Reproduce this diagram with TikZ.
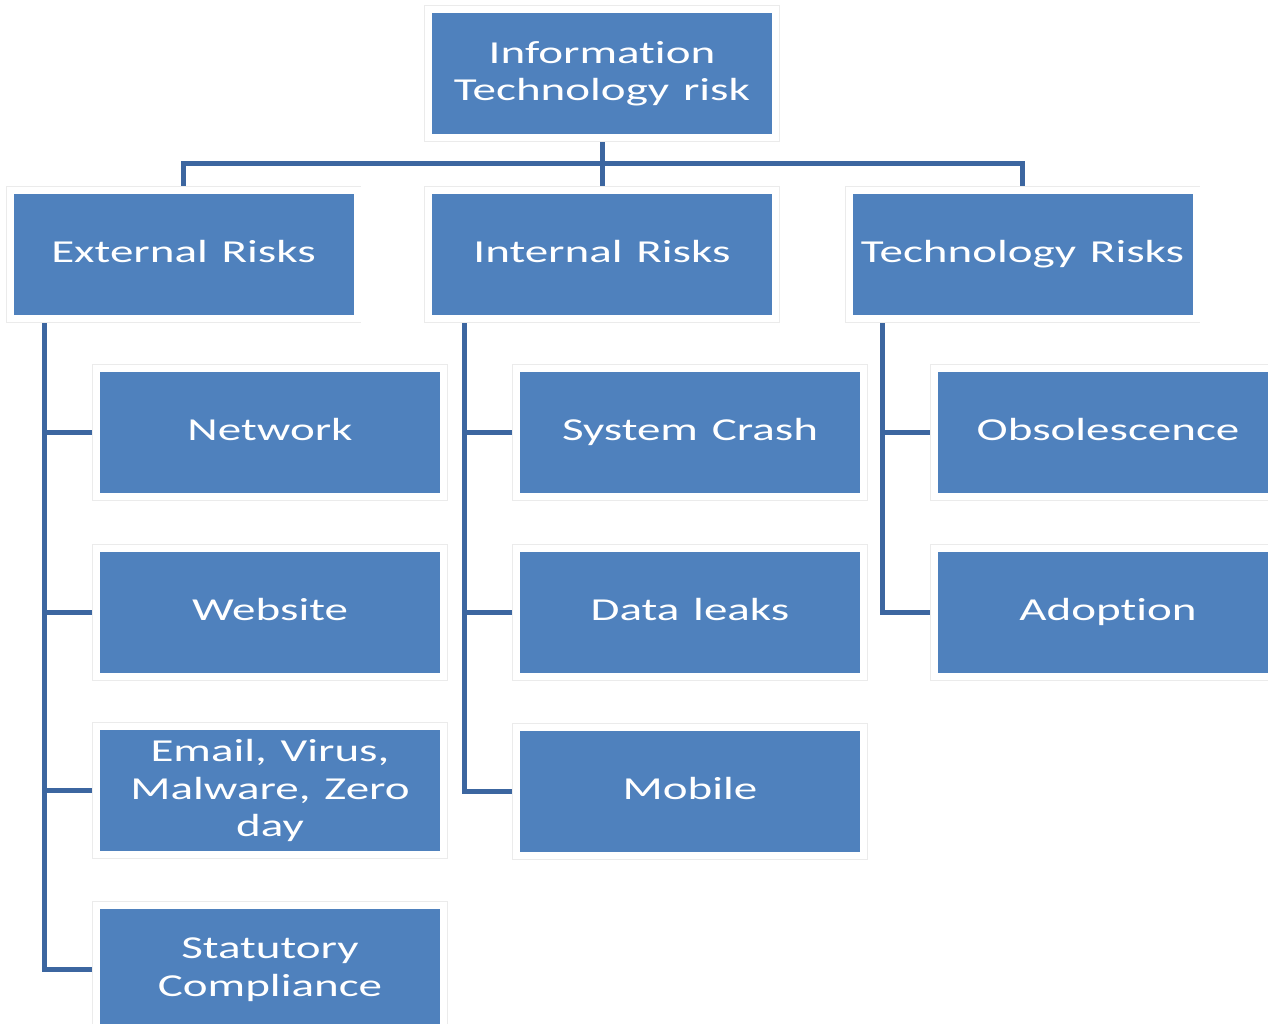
\documentclass[tikz,border=0pt]{standalone}
\usepackage{fontspec}
\setmainfont{Carlito}[FakeStretch=1.47, Ligatures={NoCommon}, WordSpace={1.3}]
\usetikzlibrary{backgrounds}
\definecolor{boxblue}{RGB}{79,129,189}
\definecolor{linkblue}{RGB}{60,102,160}
\tikzset{
  riskbox/.style={rectangle, minimum width=347pt, minimum height=128pt, inner sep=0pt,
    fill=boxblue, draw=white, line width=7pt,
    preaction={draw=black!8, line width=8.5pt},
    text=white, align=center, font=\fontsize{32}{37.5}\selectfont},
  conn/.style={draw=linkblue, line width=5pt, line join=miter}
}
\begin{document}
\begin{tikzpicture}[x=1pt,y=-1pt]
\useasboundingbox (0,0) rectangle (1268,1023);
% top
\node[riskbox] (top) at (602,73.5) {Information\\Technology risk};
% level 2
\node[riskbox] (ext)  at (183.5,254.5) {\strut External Risks};
\node[riskbox] (int)  at (602,254.5) {\strut Internal Risks};
\node[riskbox] (tech) at (1022.5,254.5) {\strut Technology Risks};
% external children
\node[riskbox] (net)  at (270,432.5) {\strut Network};
\node[riskbox] (web)  at (270,612.5) {\strut Website};
\node[riskbox] (mail) at (270,790.5) {Email, Virus,\\Malware, Zero\\day};
\node[riskbox] (stat) at (270,969.5) {Statutory\\Compliance};
% internal children
\node[riskbox] (crash) at (690,432.5) {\strut System Crash};
\node[riskbox] (leak)  at (690,612.5) {\strut Data leaks};
\node[riskbox] (mob)   at (690,791.5) {\strut Mobile};
% technology children
\node[riskbox] (obs) at (1108,432.5) {\strut Obsolescence};
\node[riskbox] (adp) at (1108,612.5) {\strut Adoption};
% connectors
\coordinate (bus) at (602,163);
\coordinate (er) at (44,0);
\coordinate (ir) at (464,0);
\coordinate (tr) at (882,0);
\begin{pgfonlayer}{background}
\fill[white] (0,0) rectangle (1268,1023);
\draw[conn] (ext.north) |- (bus) -| (tech.north);
\draw[conn] (top.south) -- (int.north);
\draw[conn] (ext.south -| er) |- (net.west);
\draw[conn] (ext.south -| er) |- (web.west);
\draw[conn] (ext.south -| er) |- (mail.west);
\draw[conn] (ext.south -| er) |- (stat.west);
\draw[conn] (int.south -| ir) |- (crash.west);
\draw[conn] (int.south -| ir) |- (leak.west);
\draw[conn] (int.south -| ir) |- (mob.west);
\draw[conn] (tech.south -| tr) |- (obs.west);
\draw[conn] (tech.south -| tr) |- (adp.west);
\end{pgfonlayer}
\end{tikzpicture}
\end{document}
